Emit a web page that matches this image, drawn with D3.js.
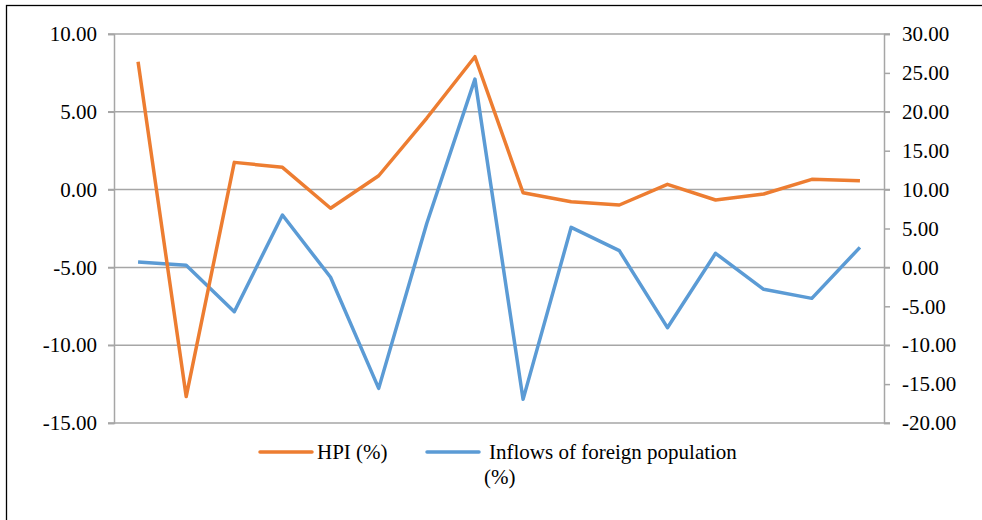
<!DOCTYPE html>
<html>
<head>
<meta charset="utf-8">
<script src="https://cdn.jsdelivr.net/npm/d3@7"></script>
<style>
  body { margin: 0; background: #fff; }
</style>
</head>
<body>
<div id="chart"></div>
<script>
// data
var periods = d3.range(1, 17).map(String);
var hpi = [8.22, -13.3, 1.75, 1.43, -1.2, 0.89, 4.6, 8.54, -0.2, -0.78, -0.99, 0.34, -0.67, -0.28, 0.66, 0.57];
var inflows = [0.69, 0.27, -5.69, 6.73, -1.27, -15.55, 5.67, 24.2, -16.96, 5.15, 2.15, -7.75, 1.81, -2.82, -3.98, 2.58];
var leftTicks = [-15, -10, -5, 0, 5, 10];
var rightTicks = [-20, -15, -10, -5, 0, 5, 10, 15, 20, 25, 30];

var svgWidth = 982,
	svgHeight = 520;

var margin = { top: 34, right: 98, bottom: 97, left: 114 };
var width = svgWidth - margin.left - margin.right,
	height = svgHeight - margin.top - margin.bottom;

var serif = '"Liberation Serif", "Times New Roman", serif';
var fontSize = 21;
var grey = '#a6a6a6';

var svg = d3.select('#chart')
	.append('svg')
	.attr('width', svgWidth)
	.attr('height', svgHeight);

// outer frame
svg.append('rect')
	.attr('x', 6.5).attr('y', 5.5)
	.attr('width', 1000).attr('height', 600)
	.attr('fill', 'none')
	.attr('stroke', '#000')
	.attr('stroke-width', 1.3);

var chartGroup = svg.append('g')
	.attr('transform', `translate(${margin.left},${margin.top})`);

var xScale = d3.scaleBand().domain(periods).range([0, width]);
var yLeft = d3.scaleLinear().domain([-15, 10]).range([height, 0]);
var yRight = d3.scaleLinear().domain([-20, 30]).range([height, 0]);

// hyphen instead of unicode minus, like the original
var fmt = d => d3.format('.2f')(d).replace('\u2212', '-');

// gridlines
chartGroup.append('g').selectAll('line')
	.data(leftTicks)
	.enter()
	.append('line')
	.attr('x1', -6).attr('x2', width + 6)
	.attr('y1', d => yLeft(d)).attr('y2', d => yLeft(d))
	.attr('stroke', grey).attr('stroke-width', 1.5);

function styleAxis(g) {
	g.attr('font-family', serif).attr('font-size', fontSize);
	g.selectAll('.domain').attr('stroke', grey).attr('stroke-width', 1.5);
	g.selectAll('.tick line').attr('stroke', grey).attr('stroke-width', 1.5);
	g.selectAll('text').attr('fill', '#000').attr('font-family', serif).attr('font-size', fontSize);
}

// left axis
chartGroup.append('g')
	.call(d3.axisLeft(yLeft).tickValues(leftTicks).tickFormat(fmt).tickSize(6).tickPadding(11))
	.call(styleAxis);

// right axis
chartGroup.append('g')
	.attr('transform', `translate(${width},0)`)
	.call(d3.axisRight(yRight).tickValues(rightTicks).tickFormat(fmt).tickSize(6).tickPadding(12))
	.call(styleAxis);

var xPos = d => xScale(d) + xScale.bandwidth() / 2;

var hpiLine = d3.line()
	.x((d, i) => xPos(periods[i]))
	.y(d => yLeft(d));
var inflowLine = d3.line()
	.x((d, i) => xPos(periods[i]))
	.y(d => yRight(d));

chartGroup.append('path')
	.datum(inflows)
	.attr('d', inflowLine)
	.attr('fill', 'none')
	.attr('stroke', '#5b9bd5')
	.attr('stroke-width', 3.5)
	.attr('stroke-linejoin', 'round');

chartGroup.append('path')
	.datum(hpi)
	.attr('d', hpiLine)
	.attr('fill', 'none')
	.attr('stroke', '#ed7d31')
	.attr('stroke-width', 3.5)
	.attr('stroke-linejoin', 'round');

// legend
var legend = svg.append('g')
	.attr('font-family', serif)
	.attr('font-size', fontSize);
legend.append('line')
	.attr('x1', 260).attr('x2', 312).attr('y1', 452).attr('y2', 452)
	.attr('stroke', '#ed7d31').attr('stroke-width', 3.5).attr('stroke-linecap', 'round');
legend.append('text')
	.attr('x', 317).attr('y', 459)
	.text('HPI (%)');
legend.append('line')
	.attr('x1', 427).attr('x2', 479).attr('y1', 452).attr('y2', 452)
	.attr('stroke', '#5b9bd5').attr('stroke-width', 3.5).attr('stroke-linecap', 'round');
legend.append('text')
	.attr('x', 489).attr('y', 459)
	.text('Inflows of foreign population');
legend.append('text')
	.attr('x', 484).attr('y', 484)
	.text('(%)');
</script>
</body>
</html>
